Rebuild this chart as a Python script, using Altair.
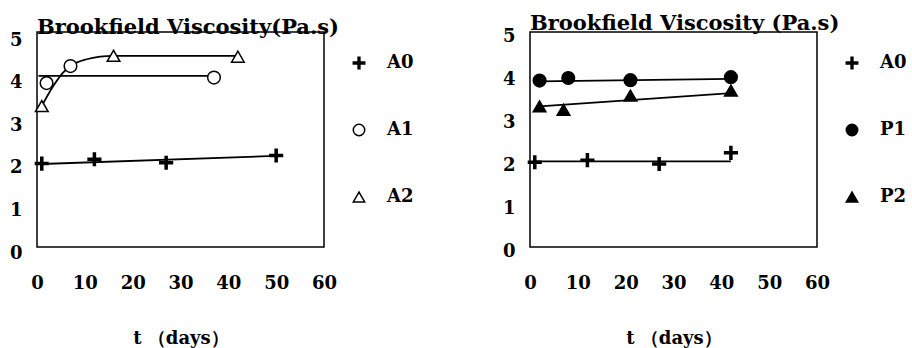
import altair as alt
import pandas as pd

FONT = "DejaVu Serif"

# ---- Left panel: A series (measured points) ----
A0_t = [1, 12, 27, 50]
A0_v = [1.96, 2.06, 1.98, 2.15]
A1_t = [2, 7, 37]
A1_v = [3.85, 4.25, 3.98]
A2_t = [1, 16, 42]
A2_v = [3.31, 4.49, 4.47]

# ---- Left panel: drawn trend lines ----
A0fit_t = [1, 50]
A0fit_v = [1.95, 2.14]
A1fit_t = [0.3, 37]
A1fit_v = [4.02, 4.02]
A2fit_t = [1.0, 3.4, 5.5, 7.6, 10.4, 13.2, 16, 42]
A2fit_v = [3.31, 3.78, 4.10, 4.29, 4.41, 4.47, 4.49, 4.49]

# ---- Right panel: A0, P1, P2 (measured points) ----
RA0_t = [1, 12, 27, 42]
RA0_v = [1.97, 2.02, 1.93, 2.19]
P1_t = [2, 8, 21, 42]
P1_v = [3.87, 3.93, 3.88, 3.95]
P2_t = [2, 7, 21, 42]
P2_v = [3.27, 3.19, 3.52, 3.64]

# ---- Right panel: drawn trend lines ----
RA0fit_t = [1, 42]
RA0fit_v = [1.99, 1.99]
P1fit_t = [2, 42]
P1fit_v = [3.85, 3.91]
P2fit_t = [2, 42]
P2fit_v = [3.27, 3.58]

X_TICKS = [0, 10, 20, 30, 40, 50, 60]
Y_TICKS = [0, 1, 2, 3, 4, 5]
LEFT_NAMES = ["A0", "A1", "A2"]
RIGHT_NAMES = ["A0", "P1", "P2"]

PLUS = "M-1,-0.16H-0.16V-1H0.16V-0.16H1V0.16H0.16V1H-0.16V0.16H-1Z"
SHAPES = [PLUS, "circle", "triangle-up"]


def frame(pairs):
    rows = []
    for name, ts, vs in pairs:
        for t, v in zip(ts, vs):
            rows.append({"series": name, "t": t, "v": v})
    return pd.DataFrame(rows)


left_pts = frame([("A0", A0_t, A0_v), ("A1", A1_t, A1_v), ("A2", A2_t, A2_v)])
left_lines = frame([("A0", A0fit_t, A0fit_v), ("A1", A1fit_t, A1fit_v), ("A2", A2fit_t, A2fit_v)])
right_pts = frame([("A0", RA0_t, RA0_v), ("P1", P1_t, P1_v), ("P2", P2_t, P2_v)])
right_lines = frame([("A0", RA0fit_t, RA0fit_v), ("P1", P1fit_t, P1fit_v), ("P2", P2fit_t, P2fit_v)])


def panel(pts, lines, names, fills, ydom, title, ylab_off):
    x = alt.X(
        "t:Q",
        scale=alt.Scale(domain=[0, 60], nice=False, zero=False),
        axis=alt.Axis(values=X_TICKS, title="t （days）", labelPadding=27,
                      titlePadding=37, labelFlush=False, labelOverlap=False),
    )
    y = alt.Y(
        "v:Q",
        scale=alt.Scale(domain=ydom, nice=False, zero=False),
        axis=alt.Axis(values=Y_TICKS, title=None, labelPadding=15,
                      labelFlush=False, labelOverlap=False, labelOffset=ylab_off),
    )
    leg = alt.Legend(
        title=None, orient="none", legendX=313, legendY=22, padding=0,
        rowPadding=49, labelOffset=19, symbolSize=130, symbolStrokeWidth=1.5,
        labelFont=FONT, labelFontSize=18,
        labelFontWeight="bold", labelColor="black",
    )
    line_layer = alt.Chart(lines).mark_line(
        color="black", strokeWidth=1.8, interpolate="monotone"
    ).encode(x=x, y=y, detail="series:N")
    pt_layer = alt.Chart(pts).mark_point(
        filled=False, strokeWidth=1.5, size=160, opacity=1
    ).encode(
        x=x, y=y,
        shape=alt.Shape("series:N", scale=alt.Scale(domain=names, range=SHAPES), legend=leg),
        fill=alt.Fill("series:N", scale=alt.Scale(domain=names, range=fills), legend=leg),
        stroke=alt.Stroke("series:N", scale=alt.Scale(domain=names, range=["black"] * 3), legend=leg),
    )
    return alt.layer(line_layer, pt_layer).properties(
        width=287, height=215,
        title=alt.TitleParams(title, anchor="start", frame="group", offset=-7),
    )


left = panel(left_pts, left_lines, LEFT_NAMES, ["black", "white", "white"],
             [0, 5.05], "Brookfield Viscosity(Pa.s)", 6)
right = panel(right_pts, right_lines, RIGHT_NAMES, ["black", "black", "black"],
              [0, 5], "Brookfield Viscosity (Pa.s)", 4)

chart = (
    alt.hconcat(left, right, spacing=86)
    .resolve_scale(x="independent", y="independent", shape="independent",
                   fill="independent", stroke="independent")
    .resolve_legend(shape="independent", fill="independent", stroke="independent")
    .properties(padding={"left": 8, "top": 12, "right": 0, "bottom": 0}, background="white")
    .configure_view(stroke="black", strokeWidth=1.5)
    .configure_axis(
        labelFont=FONT, labelFontSize=18, labelFontWeight="bold", labelColor="black",
        titleFont=FONT, titleFontSize=18, titleFontWeight="bold", titleColor="black",
        grid=False, domain=False, ticks=False, tickSize=0,
    )
    .configure_title(font=FONT, fontSize=21, fontWeight="bold", color="black")
)

chart.save("out.html", embed_options={"renderer": "svg", "actions": False})
